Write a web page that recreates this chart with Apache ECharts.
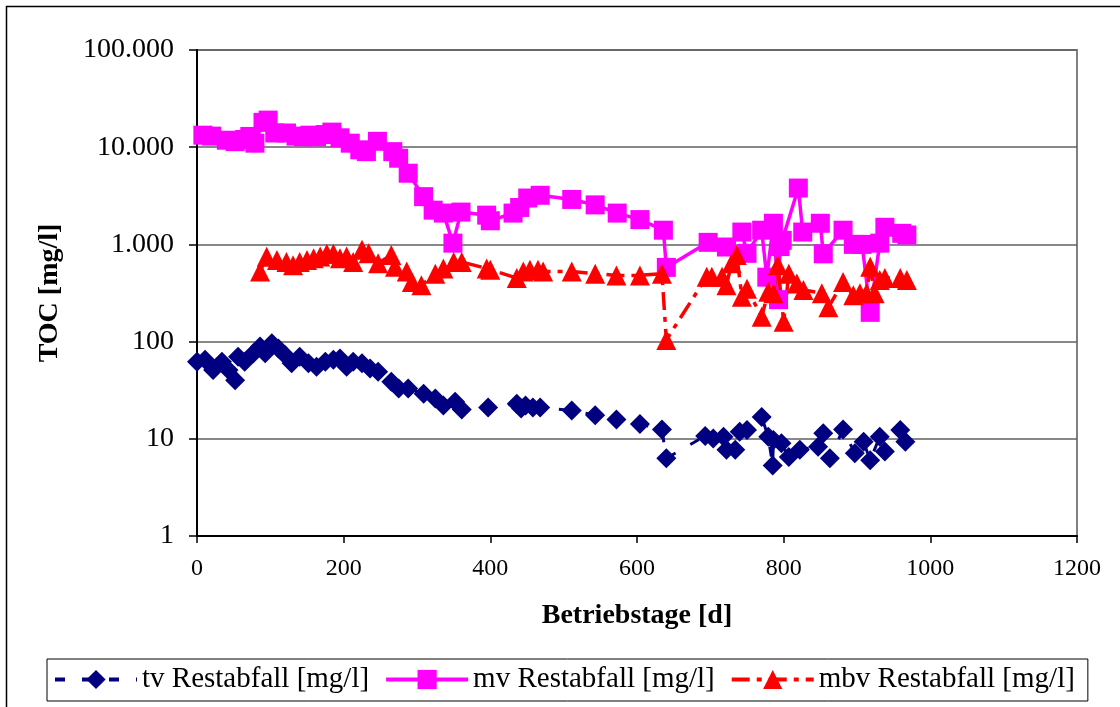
<!DOCTYPE html>
<html>
<head>
<meta charset="utf-8">
<script src="https://cdn.jsdelivr.net/npm/echarts@6/dist/echarts.min.js"></script>
<style>
  html, body { margin: 0; padding: 0; background: #fff; }
  #chart { width: 1120px; height: 707px; }
</style>
</head>
<body>
<div id="chart"></div>
<script>
// TOC residual concentrations over operating days
const seriesNames = ['tv Restabfall [mg/l]', 'mv Restabfall [mg/l]', 'mbv Restabfall [mg/l]'];

// Labels for the logarithmic decades 10^0 … 10^5
const yTickLabels = ['1', '10', '100', '1.000', '10.000', '100.000'];
// Labels for the day axis, every 200 days
const xTickLabels = ['0', '200', '400', '600', '800', '1000', '1200'];

// [Betriebstag, TOC mg/l]
const tvData = [
  [0, 62], [11, 65], [22, 51], [34, 62], [43, 51], [52, 40], [56, 70], [65, 62],
  [77, 76], [86, 89], [93, 76], [102, 96], [111, 85], [120, 73], [129, 60], [140, 70],
  [152, 60], [163, 55], [175, 62], [186, 65], [195, 67], [204, 55], [213, 62], [225, 60],
  [236, 53], [247, 49], [265, 38.6], [275, 33], [288, 33], [309, 29], [325, 26], [336, 22],
  [352, 24], [361, 20], [397, 21], [436, 23], [442, 20.5], [448, 22], [458, 21], [468, 21],
  [511, 19.5], [543, 17.5], [572, 15.8], [604, 14.2], [634, 12.5], [640, 6.3], [693, 10.7],
  [704, 10.1], [718, 10.5], [722, 7.7], [734, 7.7], [740, 11.8], [750, 12.3], [770, 16.8],
  [779, 10.5], [785, 5.3], [786, 9.7], [797, 9.0], [807, 6.5], [822, 7.7], [847, 8.3],
  [854, 11.4], [863, 6.3], [881, 12.5], [897, 7.1], [909, 9.3], [918, 6.0], [931, 10.5],
  [938, 7.4], [959, 12.3], [966, 9.3]
];

const mvData = [
  [8, 13300], [20, 13000], [40, 11800], [52, 11400], [65, 12000], [72, 12900], [79, 11000],
  [90, 18000], [97, 19000], [106, 14000], [122, 14000], [135, 13000], [145, 12800],
  [154, 13300], [163, 12800], [175, 13500], [184, 14300], [195, 12500], [209, 11000],
  [222, 9400], [231, 9000], [246, 11500], [267, 9000], [275, 7700], [288, 5400], [309, 3100],
  [322, 2250], [336, 2100], [349, 1030], [360, 2150], [395, 2000], [400, 1750], [431, 2100],
  [440, 2400], [451, 3000], [468, 3200], [511, 2900], [543, 2550], [573, 2100], [604, 1800],
  [636, 1400], [640, 580], [697, 1050], [722, 940], [743, 1340], [750, 810], [770, 1400],
  [777, 460], [786, 1650], [793, 270], [795, 950], [798, 1100], [820, 3800], [826, 1340],
  [850, 1650], [854, 800], [881, 1400], [895, 1000], [907, 1000], [918, 200], [931, 1030],
  [938, 1500], [961, 1300], [968, 1250]
];

const mbvData = [
  [86, 525], [95, 748], [109, 690], [122, 660], [131, 610], [140, 660], [150, 690], [159, 720],
  [168, 750], [177, 800], [186, 800], [195, 720], [204, 750], [213, 660], [225, 880], [234, 810],
  [247, 640], [265, 780], [270, 590], [286, 525], [293, 410], [306, 380], [325, 500], [336, 565],
  [350, 660], [361, 660], [395, 565], [400, 550], [436, 450], [445, 525], [454, 550], [465, 550],
  [472, 525], [511, 525], [543, 500], [572, 480], [604, 480], [634, 500], [640, 104], [695, 465],
  [702, 465], [716, 465], [722, 380], [729, 640], [736, 780], [743, 290], [750, 350], [770, 180],
  [779, 325], [786, 315], [792, 610], [800, 160], [807, 500], [818, 395], [827, 340], [852, 315],
  [861, 225], [881, 410], [895, 300], [904, 315], [913, 315], [918, 590], [924, 315], [931, 430],
  [938, 450], [959, 450], [968, 430]
];

const FONT = 'Liberation Serif, Times New Roman, serif';

const chart = echarts.init(document.getElementById('chart'), null, { renderer: 'canvas' });

chart.setOption({
  animation: false,
  backgroundColor: '#ffffff',
  graphic: [{
    type: 'rect',
    silent: true,
    z: -10,
    shape: { x: 6.5, y: 6.5, width: 1300, height: 900 },
    style: { fill: 'none', stroke: '#000', lineWidth: 1.5 }
  }],
  grid: {
    left: 197, right: 43, top: 50, bottom: 171,
    show: true, borderColor: '#808080', borderWidth: 2, backgroundColor: 'transparent'
  },
  legend: {
    data: seriesNames,
    left: 47, top: 659,
    itemWidth: 82, itemHeight: 24, itemGap: 15,
    padding: [6, 13, 7, 6],
    borderColor: '#000', borderWidth: 1,
    lineStyle: { width: 4 },
    textStyle: { fontFamily: FONT, fontSize: 29, color: '#000' }
  },
  xAxis: {
    type: 'value', min: 0, max: 1200, interval: 200,
    name: 'Betriebstage [d]', nameLocation: 'middle', nameGap: 66,
    nameTextStyle: { fontFamily: FONT, fontSize: 28, fontWeight: 'bold', color: '#000' },
    axisLine: { show: true, onZero: false, lineStyle: { color: '#000', width: 2 } },
    axisTick: { show: true, inside: false, length: 7, lineStyle: { color: '#000', width: 1.5 } },
    axisLabel: {
      fontFamily: FONT, fontSize: 24, color: '#000', margin: 21,
      formatter: function (v) {
        const i = Math.round(v / 200);
        return xTickLabels[i] !== undefined ? xTickLabels[i] : '';
      }
    },
    splitLine: { show: false }
  },
  yAxis: {
    type: 'log', logBase: 10, min: 1, max: 100000,
    name: 'TOC [mg/l]', nameLocation: 'middle', nameGap: 133, nameRotate: 90,
    nameTextStyle: { fontFamily: FONT, fontSize: 28, fontWeight: 'bold', color: '#000' },
    axisLine: { show: true, lineStyle: { color: '#000', width: 2 } },
    axisTick: { show: true, inside: false, length: 8, lineStyle: { color: '#000', width: 1.5 } },
    axisLabel: {
      fontFamily: FONT, fontSize: 28, color: '#000', margin: 23,
      formatter: function (v) {
        const i = Math.round(Math.log10(v));
        return yTickLabels[i] !== undefined ? yTickLabels[i] : '';
      }
    },
    splitLine: { show: true, lineStyle: { color: '#606060', width: 1.5 } }
  },
  series: [
    {
      name: seriesNames[0], type: 'line', data: tvData,
      symbol: 'diamond', symbolSize: 20, showAllSymbol: true,
      itemStyle: { color: '#000080' },
      lineStyle: { color: '#000080', width: 3, type: [10, 17] }
    },
    {
      name: seriesNames[1], type: 'line', data: mvData,
      symbol: 'rect', symbolSize: 19, showAllSymbol: true,
      itemStyle: { color: '#FF00FF' },
      lineStyle: { color: '#FF00FF', width: 3.5, type: 'solid' }
    },
    {
      name: seriesNames[2], type: 'line', data: mbvData,
      symbol: 'triangle', symbolSize: 20, showAllSymbol: true,
      itemStyle: { color: '#FF0000' },
      lineStyle: { color: '#FF0000', width: 3.5, type: [18, 7, 5, 7] }
    }
  ]
});
</script>
</body>
</html>
